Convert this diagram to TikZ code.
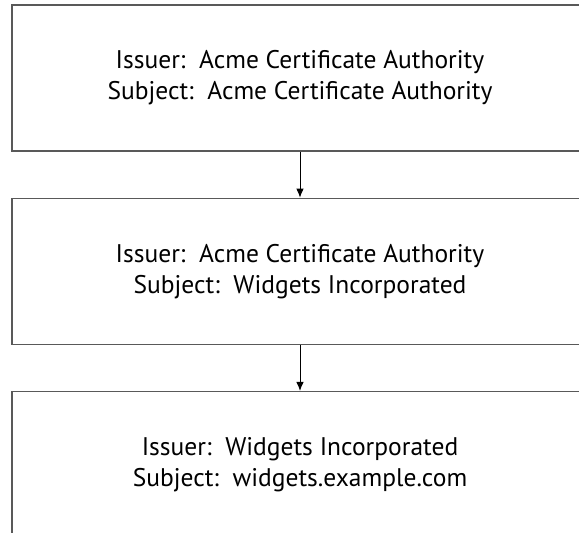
\documentclass[tikz,border=0pt]{standalone}
\usepackage{fontspec}
\setmainfont{PT Sans}
\usepackage{tikz}
\usetikzlibrary{arrows.meta, positioning}
\tikzset{
  cert_box/.style={rectangle, draw=black!65, line width=1.3pt, fill=white, minimum width=576pt, minimum height=146pt, align=center, inner sep=0pt, font=\fontsize{25.5}{31}\selectfont},
  arrow/.style={-{Latex[length=9pt, width=7.5pt]}, line width=0.9pt, black}
}
\begin{document}
\begin{tikzpicture}[node distance=46pt]
    \useasboundingbox (0,0) rectangle (579pt,-533pt);

    % Certificate chain
    \node (root) [cert_box] at (300pt,-78pt) {Issuer:\ \ Acme Certificate Authority\\Subject:\ \ Acme Certificate Authority};
    \node (inter) [cert_box, below=of root] {Issuer:\ \ Acme Certificate Authority\\Subject:\ \ Widgets Incorporated};
    \node (leaf) [cert_box, below=of inter] {Issuer:\ \ Widgets Incorporated\\Subject:\ \ widgets.example.com};

    % Connections
    \draw [arrow] (root) -- (inter);
    \draw [arrow] (inter) -- (leaf);
\end{tikzpicture}
\end{document}
